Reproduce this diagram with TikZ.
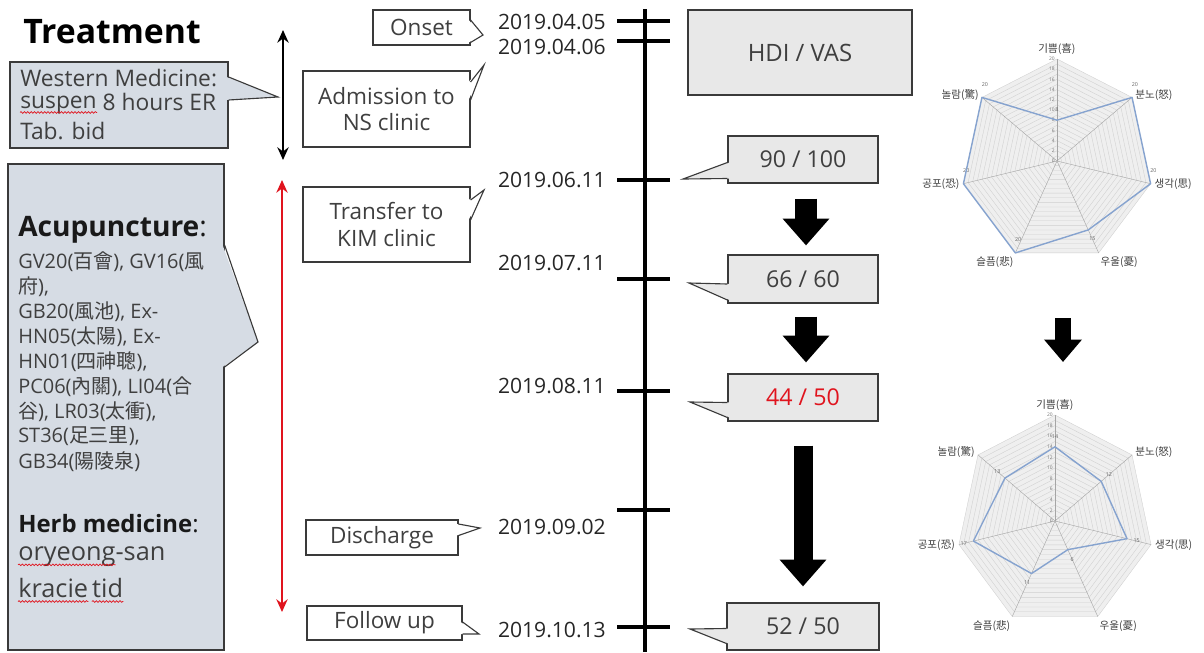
\documentclass[tikz,border=0pt]{standalone}
\usepackage{fontspec}
\setmainfont{Open Sans}
\newfontfamily\cjk{Noto Sans CJK KR}
\usetikzlibrary{arrows.meta,positioning,calc,decorations.pathmorphing}
\definecolor{sidefill}{HTML}{D6DCE4}
\definecolor{valfill}{HTML}{E8E8E8}
\definecolor{boxline}{HTML}{3A3A3A}
\definecolor{inkgray}{HTML}{3F3F3F}
\definecolor{markred}{HTML}{E0141E}
\definecolor{radarline}{HTML}{86A3CF}
\definecolor{radarfill}{HTML}{EFEFEF}
\definecolor{radargrid}{HTML}{CFCFCF}
\newcommand{\fsz}[2]{\fontsize{#1}{#2}\selectfont}
\newcommand{\hj}[1]{{\cjk #1}}
% pointer of a callout, on the right or left side of a box
\newcommand{\tailR}[5]{%
  \fill[#5] ($(#1.east)+(-2,#2)$) -- #4 -- ($(#1.east)+(-2,#3)$) -- cycle;
  \draw[boxline, line width=0.8pt] ($(#1.east)+(0,#2)$) -- #4 -- ($(#1.east)+(0,#3)$);}
\newcommand{\tailL}[5]{%
  \fill[#5] ($(#1.west)+(2,#2)$) -- #4 -- ($(#1.west)+(2,#3)$) -- cycle;
  \draw[boxline, line width=0.8pt] ($(#1.west)+(0,#2)$) -- #4 -- ($(#1.west)+(0,#3)$);}
% wavy spelling mark under a word node
\newcommand{\typo}[1]{\draw[typomark] ($(#1.base west)+(0,4)$) -- ($(#1.base east)+(0,4)$);}
% seven-emotion radar chart
\newcommand{\radar}[3]{%
\begin{scope}[#1]
  \fill[radarfill] (-90:100) \foreach \k in {1,...,6} {-- (\k*360/7-90:100)} -- cycle;
  \foreach \r in {5,10,...,100}
    \draw[radargrid, line width=0.25pt] (-90:\r) \foreach \k in {1,...,6} {-- (\k*360/7-90:\r)} -- cycle;
  \foreach \k in {0,...,6} \draw[radargrid!80!black, line width=0.3pt] (0,0) -- (\k*360/7-90:100);
  \foreach \t in {0,2,...,20}
    \node[font=\fsz{3.5}{4}, text=black!55, anchor=east] (#3s\t) at ($(-90:\t*5)+(-2,0)$) {\t};
  \foreach \v [count=\k from 0] in {#2} {
    \coordinate (#3\k) at (\k*360/7-90:\v*5);
    \ifnum\v>17
      \node[font=\fsz{3.8}{4}, text=black!60] (#3v\k) at ($(\k*360/7-90:100)+(3,-13)$) {\v};
    \else
      \node[font=\fsz{3.8}{4}, text=black!60] (#3v\k) at (\k*360/7-90:\v*5+10) {\v};
    \fi}
  \draw[radarline, line width=1pt, line join=round]
    (#30) -- (#31) -- (#32) -- (#33) -- (#34) -- (#35) -- (#36) -- cycle;
  \foreach \lab/\anc [count=\k from 0] in {기쁨(喜)/south, 분노(怒)/west, 생각(思)/west,
      우울(憂)/north west, 슬픔(悲)/north east, 공포(恐)/east, 놀람(驚)/east}
    \node[radartxt, anchor=\anc] (#3l\k) at (\k*360/7-90:104) {\lab};
\end{scope}}

\begin{document}
\begin{tikzpicture}[x=0.025cm, y=-0.025cm,
  every node/.style={inner sep=0pt},
  boxsize/.style 2 args={minimum width=#1*0.025cm, minimum height=#2*0.025cm},
  callbox/.style={draw=boxline, line width=0.8pt, fill=white, text=inkgray, font=\fsz{16}{19}, align=center},
  valbox/.style={draw=boxline, line width=0.8pt, fill=valfill, text=inkgray, font=\fsz{16.5}{19}},
  sidebox/.style={draw=boxline, line width=0.8pt, fill=sidefill},
  sidetext/.style={anchor=west, text=inkgray},
  typomark/.style={markred, line width=0.5pt, decorate,
    decoration={snake, amplitude=0.6pt, segment length=2.4pt}},
  datelabel/.style={anchor=east, text=black!85, font=\fsz{15}{18}},
  datetick/.style={line width=2.2pt},
  fatarrow/.style={line width=15pt, -{Triangle[width=32pt,length=19pt]}},
  radartxt/.style={font=\cjk\fsz{7.5}{9}, text=black!75}]
\useasboundingbox (0,0) rectangle (1204,652);
\fill[white] (0,0) rectangle (1204,652);

% treatment column
\node[font=\bfseries\fsz{24}{28}, text=black] (title) at (112,32) {Treatment};
\node[sidebox, boxsize={218}{86}] (western) at (119,105) {};
\tailR{western}{-28}{-5}{(278,97)}{sidefill}
\node[sidetext, font=\fsz{16.2}{19}] (west1) at (20,78) {Western Medicine:};
\node[sidetext, font=\fsz{16.2}{19}] (suspen) at (20,105) {suspen};
\node[sidetext, font=\fsz{16.2}{19}] (west2) at (20,105) {\phantom{suspen} 8 hours ER};
\node[sidetext, font=\fsz{16.2}{19}] (west3) at (20,131) {Tab. bid};
\typo{suspen}
\node[sidebox, boxsize={216}{486}] (acubox) at (116,407) {};
\tailR{acubox}{-162}{-40}{(258,342)}{sidefill}
\node[sidetext, font=\bfseries\fsz{20}{24}, text=black!90] (acuhead) at (18,230) {Acupuncture\mdseries:};
\foreach \pt [count=\i from 0] in {{GV20(\hj{百會}), GV16(\hj{風}}, {\hj{府}),},
    {GB20(\hj{風池}), Ex-}, {HN05(\hj{太陽}), Ex-}, {HN01(\hj{四神聰}),},
    {PC06(\hj{內關}), LI04(\hj{合}}, {\hj{谷}), LR03(\hj{太衝}),},
    {ST36(\hj{足三里}),}, {GB34(\hj{陽陵泉})}}
  \node[sidetext, font=\fsz{14.2}{17}] (acu\i) at (18,262+\i*24.9) {\pt};
\node[sidetext, font=\bfseries\fsz{17}{20}, text=black!90] (herbhead) at (18,524) {Herb medicine\mdseries:};
\node[sidetext, font=\fsz{18}{22}] (oryeong) at (18,557) {oryeong};
\node[sidetext, font=\fsz{18}{22}] (herb1) at (18,557) {\phantom{oryeong}-san};
\node[sidetext, font=\fsz{18}{22}] (kracie) at (18,588) {kracie};
\node[sidetext, font=\fsz{18}{22}, right=0.25em of kracie.east, anchor=west] (tid) {tid};
\typo{oryeong}
\typo{kracie}
\typo{tid}

% treatment periods
\coordinate (wtop) at (283,30);
\coordinate (wbot) at (283,160);
\draw[{Stealth[length=9pt,width=8pt]}-{Stealth[length=9pt,width=8pt]}, line width=1.6pt] (wtop) -- (wbot);
\coordinate (ktop) at (282,180);
\coordinate (kbot) at (282,612);
\draw[markred, {Stealth[length=9pt,width=8pt]}-{Stealth[length=9pt,width=8pt]}, line width=1.6pt] (ktop) -- (kbot);

% events
\node[callbox, boxsize={97}{35}] (onset) at (421.5,27.5) {Onset};
\tailR{onset}{-7.5}{15}{(483,35)}{white}
\node[callbox, boxsize={167}{76}] (admit) at (386.5,109) {Admission to\\NS clinic};
\tailR{admit}{-27}{-9}{(484,65)}{white}
\node[callbox, boxsize={167}{75}] (transfer) at (386.5,224.5) {Transfer to\\KIM clinic};
\tailR{transfer}{-24.5}{-4.5}{(484,190)}{white}
\node[callbox, boxsize={152}{35}] (discharge) at (382,537.5) {Discharge};
\tailR{discharge}{-13.5}{-2}{(480,528)}{white}
\node[callbox, boxsize={155}{34}] (followup) at (384.5,623) {Follow up};
\tailR{followup}{-1}{11}{(479,634)}{white}

% time line
\coordinate (ltop) at (645,9);
\coordinate (lbot) at (645,652);
\draw[line width=2.2pt] (ltop) -- (lbot);
\foreach \d/\yt/\yk [count=\i] in {2019.04.05/22/21, 2019.04.06/47/41, 2019.06.11/180/180,
    2019.07.11/263/279, 2019.08.11/386/391, 2019.09.02/527/510, 2019.10.13/630/627} {
  \node[datelabel] (date\i) at (606,\yt) {\d};
  \coordinate (tk\i) at (645,\yk);
  \draw[datetick] ($(tk\i)+(-28,0)$) -- ($(tk\i)+(25,0)$);
}

% scores
\node[valbox, boxsize={224}{85}, font=\fsz{17}{20}] (hdi) at (800,52.5) {HDI / VAS};
\node[valbox, boxsize={150}{47}] (v1) at (803,159.5) {90 / 100};
\tailL{v1}{3}{19}{(683,179)}{valfill}
\node[valbox, boxsize={150}{48}] (v2) at (803,279) {66 / 60};
\tailL{v2}{5}{21}{(689,283)}{valfill}
\node[valbox, boxsize={150}{47}, text=markred] (v3) at (803,397.5) {44 / 50};
\tailL{v3}{5}{20}{(690,402)}{valfill}
\node[valbox, boxsize={152}{47}] (v4) at (803,626.5) {52 / 50};
\tailL{v4}{2}{17}{(690,629)}{valfill}
\draw[fatarrow] ($(v1.south)+(3,15)$) -- ($(v2.north)+(3,-9)$);
\draw[fatarrow] ($(v2.south)+(3,13)$) -- ($(v3.north)+(3,-11)$);
\draw[fatarrow, line width=13.5pt] ($(v3.south)+(0,24)$) -- ($(v4.north)+(0,-16)$);

% radar charts
\radar{shift={(1057,161)}, xscale=0.96, yscale=1.02}{8,20,20,15,20,20,20}{ra}
\radar{shift={(1055,521)}, xscale=0.985, yscale=1.06}{14,12,15,6,11,17,13}{rb}
\coordinate (rtop) at (1063,318);
\coordinate (rbot) at (1063,362);
\draw[line width=11.5pt, -{Triangle[width=26pt,length=16pt]}] (rtop) -- (rbot);
\end{tikzpicture}
\end{document}
